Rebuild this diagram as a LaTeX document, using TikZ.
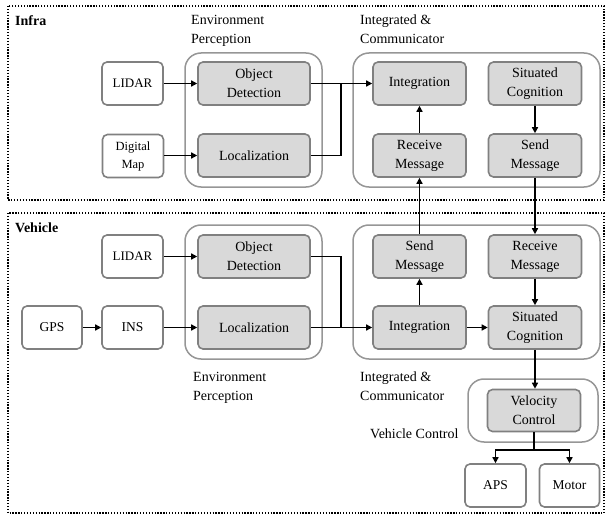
\documentclass[tikz,border=0pt]{standalone}
\usepackage{fontspec}
\setmainfont{Liberation Serif}
\usetikzlibrary{arrows.meta}
\definecolor{boxfill}{RGB}{217,217,217}
\definecolor{boxedge}{RGB}{128,128,128}
\definecolor{groupedge}{RGB}{150,150,150}
\begin{document}
\begin{tikzpicture}[x=1pt,y=-1pt,
  every node/.style={font=\fontsize{14}{19}\selectfont, align=center, inner sep=0pt},
  gbox/.style={draw=boxedge, fill=boxfill, line width=1.6pt, rounded corners=5pt,
    minimum width=93pt, minimum height=43pt},
  wbox/.style={draw=boxedge, fill=white, line width=1.6pt, rounded corners=5pt,
    minimum width=61pt, minimum height=43pt},
  group/.style={draw=groupedge, line width=1.5pt, rounded corners=16pt},
  frame/.style={line width=1.4pt, dash pattern=on 1.3pt off 1.6pt},
  flow/.style={line width=1.8pt, -{Triangle[length=6pt,width=6pt]}},
  link/.style={line width=1.8pt},
  caption/.style={anchor=base west, align=left}]
\useasboundingbox (0,0) rectangle (606,519);

% dotted domain frames
\draw[frame] (8,6) rectangle (604,200);
\draw[frame] (8,213) rectangle (604,513);
\node[caption, font=\fontsize{14}{19}\selectfont\bfseries] (infraLbl) at (15,26) {Infra};
\node[caption, font=\fontsize{14}{19}\selectfont\bfseries] (vehLbl) at (15,232) {Vehicle};

% ---------- Infra ----------
\node[group, minimum width=137pt, minimum height=134pt] (iEnv) at (253.5,120) {};
\node[group, minimum width=247pt, minimum height=134pt] (iInt) at (476.5,120) {};
% captions: base anchor sits on the last line
\node[caption] (iEnvLbl) at (191,44) {Environment\\Perception};
\node[caption] (iIntLbl) at (360,44) {Integrated \&\\Communicator};

\node[wbox, font=\fontsize{13}{19}\selectfont] (iLidar) at (132.5,83.5) {LIDAR};
\node[wbox, font=\fontsize{12.5}{18}\selectfont] (iMap) at (133,156) {Digital\\Map};
\node[gbox, minimum width=112pt] (iObj) at (254,83.5) {Object\\Detection};
\node[gbox, minimum width=112pt] (iLoc) at (254,155.5) {Localization};
\node[gbox] (iIntg) at (419.5,83.5) {Integration};
\node[gbox] (iSit) at (535,83.5) {Situated\\Cognition};
\node[gbox] (iRcv) at (419.5,155.5) {Receive\\Message};
\node[gbox] (iSnd) at (535,155.5) {Send\\Message};

% ---------- Vehicle ----------
\node[group, minimum width=137pt, minimum height=134pt] (vEnv) at (253.5,292) {};
\node[group, minimum width=247pt, minimum height=134pt] (vInt) at (476.5,292) {};
\node[group, minimum width=130pt, minimum height=63pt] (vCtl) at (533,410.5) {};
\node[caption] (vEnvLbl) at (193,400.5) {Environment\\Perception};
\node[caption] (vIntLbl) at (360,400) {Integrated \&\\Communicator};
\node[caption] (vCtlLbl) at (370,438) {Vehicle Control};

\node[wbox, font=\fontsize{13}{19}\selectfont] (vLidar) at (132.5,256.5) {LIDAR};
\node[wbox, minimum width=60pt, font=\fontsize{13.5}{19}\selectfont] (vGps) at (52,327.5) {GPS};
\node[wbox, font=\fontsize{13.5}{19}\selectfont] (vIns) at (132.5,327.5) {INS};
\node[gbox, minimum width=112pt] (vObj) at (254,256.5) {Object\\Detection};
\node[gbox, minimum width=112pt] (vLoc) at (254,327.5) {Localization};
\node[gbox] (vSnd) at (419.5,256.5) {Send\\Message};
\node[gbox] (vRcv) at (535,256.5) {Receive\\Message};
\node[gbox] (vIntg) at (419.5,327.5) {Integration};
\node[gbox] (vSit) at (535,327.5) {Situated\\Cognition};
\node[gbox, minimum height=42pt] (vVel) at (534,410.5) {Velocity\\Control};
\node[wbox, font=\fontsize{13.5}{19}\selectfont] (aps) at (495.5,485.5) {APS};
\node[wbox, minimum width=60pt, font=\fontsize{13.5}{19}\selectfont] (motor) at (569.5,485.5) {Motor};

% ---------- connectors ----------
\coordinate (iJoin) at (341,83.5);
\coordinate (vJoin) at (341,327.5);
\coordinate (split) at (534,450);

\draw[flow] (iLidar) -- (iObj);
\draw[flow] (iMap.east |- iLoc) -- (iLoc);
\draw[flow] (iObj) -- (iIntg);
\draw[link] (iLoc.east) -| (iJoin);
\draw[flow] (iRcv) -- (iIntg);
\draw[flow] (iSit) -- (iSnd);
\draw[flow] (iSnd) -- (vRcv);
\draw[flow] (vSnd) -- (iRcv);

\draw[flow] (vLidar) -- (vObj);
\draw[flow] (vGps) -- (vIns);
\draw[flow] (vIns) -- (vLoc);
\draw[link] (vObj.east) -| (vJoin);
\draw[flow] (vLoc) -- (vIntg);
\draw[flow] (vIntg) -- (vSnd);
\draw[flow] (vRcv) -- (vSit);
\draw[flow] (vIntg) -- (vSit);
\draw[flow] (vSit.south) -- (vSit.south |- vVel.north);
\draw[link] (vVel.south) -- (split);
\draw[flow] (split) -| (aps.north);
\draw[flow] (split) -| (motor.north);
\end{tikzpicture}
\end{document}
